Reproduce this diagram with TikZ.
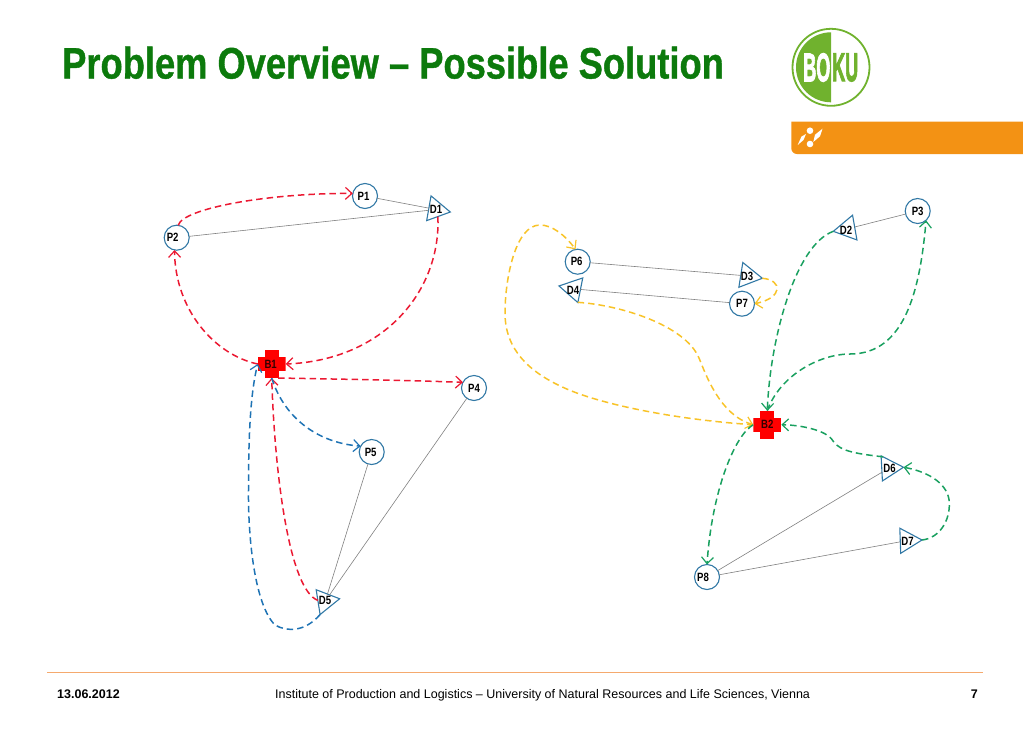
\documentclass[tikz,border=0pt]{standalone}
\usepackage{fontspec}
\usepackage{graphicx}
\setmainfont{Liberation Sans}
\newfontfamily\bokufont[UprightFont=* Bold,FakeBold=3]{Liberation Sans}
\newfontfamily\titlefont[UprightFont=* Bold,FakeBold=1]{Liberation Sans}
\newcommand{\nl}[1]{\scalebox{.8}[1]{#1}}
\usetikzlibrary{arrows.meta,shapes.geometric,calc}
\definecolor{titlegreen}{RGB}{12,122,12}
\definecolor{bokugreen}{RGB}{112,178,46}
\definecolor{bokuorange}{RGB}{243,146,20}
\definecolor{nodeblue}{RGB}{49,120,165}
\definecolor{rtred}{RGB}{235,25,50}
\definecolor{rtblue}{RGB}{30,115,180}
\definecolor{rtyellow}{RGB}{248,195,40}
\definecolor{rtgreen}{RGB}{25,160,95}
\definecolor{footline}{RGB}{245,170,110}
\tikzset{
  stop/.style={circle,draw=nodeblue,fill=white,line width=1.1pt,minimum size=25pt,inner sep=0pt,outer sep=0pt,font=\fontsize{12}{12}\selectfont\bfseries},
  depot/.style={regular polygon,regular polygon sides=3,draw=nodeblue,line width=1.1pt,minimum size=29pt,inner sep=0pt,outer sep=0pt},
  lbl/.style={inner sep=0pt,font=\fontsize{12}{12}\selectfont\bfseries},
  base/.style={minimum size=28pt,inner sep=0pt,outer sep=0pt,font=\fontsize{12}{12}\selectfont\bfseries,text=black!80!red,
    path picture={
      \fill[red] ([shift={(-14pt,-7pt)}]path picture bounding box.center) rectangle +(28pt,14pt);
      \fill[red] ([shift={(-7pt,-14pt)}]path picture bounding box.center) rectangle +(14pt,28pt);
    }},
  link/.style={draw=black!50,line width=.6pt},
  route/.style={line width=1.5pt,dash pattern=on 6.5pt off 4pt,-{Straight Barb[length=6.5pt,width=12pt,line width=1.2pt]}},
  foot/.style={inner sep=0pt,anchor=base,font=\fontsize{12.5}{13}\selectfont}
}
\begin{document}
\begin{tikzpicture}[x=1pt,y=-1pt]
\useasboundingbox (0,0) rectangle (1023,748);
% title
\node[anchor=base west,inner sep=0pt,text=titlegreen,font=\fontsize{44}{44}\selectfont\titlefont] (title) at (62,78.5) {\scalebox{.825}[1]{Problem Overview – Possible Solution}};
% logo
\draw[bokugreen,line width=1.8pt] (831,67.3) circle (38.5);
\fill[bokugreen] (831,32.3) arc[start angle=-90,end angle=-270,radius=35] -- cycle;
\node[anchor=east,inner sep=0pt,text=white,font=\fontsize{40}{40}\selectfont\bokufont] (bo) at (830.5,67.5) {\scalebox{.45}[1]{BO}};
\node[anchor=west,inner sep=0pt,text=bokugreen,font=\fontsize{40}{40}\selectfont\bokufont] (ku) at (832,67.5) {\scalebox{.45}[1]{KU}};
% orange bar
\fill[bokuorange] (791.3,121.7) -- (1023,121.7) -- (1023,154) -- (797,154) arc[start angle=90,end angle=180,radius=5.7] -- cycle;
\fill[white] (810,130.7) circle (3.3) (810,144) circle (3.3);
\fill[white] (797.7,145) -- (801.5,136.5) -- (806,134) -- (803.5,140) -- cycle;
\fill[white] (822.5,128.7) -- (820,136.3) -- (813.3,142) -- (815,134.7) -- cycle;
% footer
\draw[footline,line width=1pt] (47,672.5) -- (983,672.5);
\node[foot,anchor=base west,font=\fontsize{12.5}{13}\selectfont\bfseries] (date) at (57,698.3) {13.06.2012};
\node[foot,anchor=base west] (inst) at (275,698.3) {Institute of Production and Logistics – University of Natural Resources and Life Sciences, Vienna};
\node[foot,anchor=base east,font=\fontsize{12.5}{13}\selectfont\bfseries] (page) at (978,698.3) {7};
% stops
\node[stop] (P1) at (365,196) {\nl{P1}\kern 3pt};
\node[stop] (P2) at (176.7,237.7) {\nl{P2}\kern 8pt};
\node[stop] (P3) at (917.7,211) {\nl{P3}};
\node[stop] (P4) at (474,388) {\nl{P4}};
\node[stop] (P5) at (371.7,452) {\nl{P5}\kern 2pt};
\node[stop] (P6) at (577.7,261.7) {\nl{P6}\kern 2pt};
\node[stop] (P7) at (742,303.7) {\nl{P7}};
\node[stop] (P8) at (707,577) {\nl{P8}\kern 8pt};
% depots
\node[depot,shape border rotate=-100] (D1) at (436,209.5) {};
\node[depot,shape border rotate=100] (D2) at (847.6,228.8) {};
\node[depot,shape border rotate=-99] (D3) at (748,276) {};
\node[depot,shape border rotate=78.7] (D4) at (573.2,288.8) {};
\node[depot,shape border rotate=-81] (D5) at (325.3,601) {};
\node[depot,shape border rotate=-87] (D6) at (889,468) {};
\node[depot,shape border rotate=-88] (D7) at (907.5,540.5) {};
% bases
\node[base] (B1) at (271.7,364) {\nl{B1}\kern 2pt};
\node[base] (B2) at (767.3,424.7) {\nl{B2}};
% links
\draw[link] (P1) -- (D1);
\draw[link] (P2) -- (D1);
\draw[link] (P4) -- (D5);
\draw[link] (P5) -- (D5);
\draw[link] (P6) -- (D3);
\draw[link] (P7) -- (D4);
\draw[link] (P3) -- (D2);
\draw[link] (P8) -- (D6);
\draw[link] (P8) -- (D7);
% red routes
\draw[route,rtred] (P2.83) .. controls (183,208) and (270,193) .. (P1.168);
\draw[route,rtred] (D1.-75) .. controls (441,290) and (385,360) .. (B1.east);
\draw[route,rtred] (B1.west) .. controls (215,355) and (175,310) .. (P2.-100);
\draw[route,rtred] (B1.-65) .. controls (330,379) and (400,380) .. (P4.153);
\draw[route,rtred] (D5.175) .. controls (290,590) and (275,480) .. (B1.south);
% blue routes
\draw[route,rtblue] (B1.south) .. controls (285,420) and (320,443) .. (P5.152);
\draw[route,rtblue] (D5.-111) .. controls (305,632) and (287,632) .. (275,625) .. controls (255,605) and (248,540) .. (248.5,490) .. controls (248.5,440) and (250,395) .. (B1.west);
% yellow routes
\draw[route,rtyellow] (D4.-72) .. controls (620,305) and (685,325) .. (699,358) .. controls (706,375) and (720,415) .. (B2.west);
\draw[route,rtyellow] (B2.west) .. controls (680,420) and (600,405) .. (561.7,386.7) .. controls (530,372) and (505,350) .. (505,313) .. controls (505,280) and (515,225) .. (540,225) .. controls (552,225) and (565,235) .. (P6.100);
\draw[route,rtyellow] (D3.-9) .. controls (783,280) and (783,298) .. (P7.east);
% green routes
\draw[route,rtgreen] (D2.190) .. controls (795,245) and (770,340) .. (B2.north);
\draw[route,rtgreen] (B2.north) .. controls (780,375) and (820,354) .. (850,354) .. controls (905,354) and (920,290) .. (P3.-48);
\draw[route,rtgreen] (D6.118) .. controls (860,454) and (840,452) .. (833,441) .. controls (827,430) and (800,425) .. (B2.east);
\draw[route,rtgreen] (D7.2) .. controls (940,538) and (950,520) .. (949.3,503) .. controls (949,485) and (930,472) .. (D6.3);
\draw[route,rtgreen] (B2.west) .. controls (735,435) and (712,490) .. (P8.north);
% depot labels
\node[lbl] (lD1) at (436,209.5) {\nl{D1}};
\node[lbl] (lD2) at (846,230) {\nl{D2}};
\node[lbl] (lD3) at (747,276) {\nl{D3}};
\node[lbl] (lD4) at (573,290.7) {\nl{D4}};
\node[lbl] (lD5) at (325,600.7) {\nl{D5}};
\node[lbl] (lD6) at (889.5,468) {\nl{D6}};
\node[lbl] (lD7) at (907.5,541.7) {\nl{D7}};
\end{tikzpicture}
\end{document}
